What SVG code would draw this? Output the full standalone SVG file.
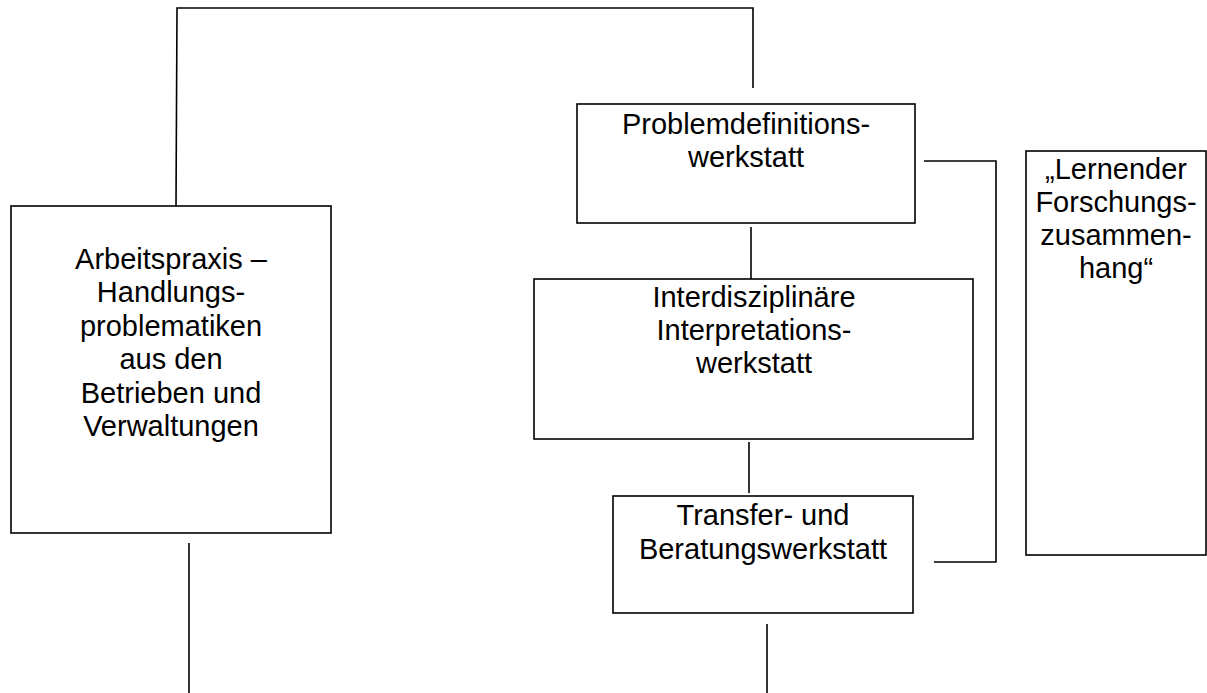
<svg xmlns="http://www.w3.org/2000/svg" width="1207" height="693" viewBox="0 0 1207 693">
<style>
.box{fill:#fff;stroke:#000;stroke-width:1.6}
.ln{fill:none;stroke:#000;stroke-width:1.6}
text{font-family:"Liberation Sans",Arial,sans-serif;font-size:29px;fill:#000;text-anchor:middle}
</style>
<rect width="1207" height="693" fill="#fff"/>
<g id="connectors">
<polyline class="ln" points="176,206 177,8 753,8 753,88"/>
<line class="ln" x1="751" y1="227" x2="751" y2="279"/>
<line class="ln" x1="749" y1="442" x2="749" y2="493"/>
<polyline class="ln" points="924,161 996,161 996,562 934,562"/>
<line class="ln" x1="189" y1="543" x2="189" y2="693"/>
<line class="ln" x1="767" y1="624" x2="767" y2="693"/>
</g>
<g id="arbeitspraxis">
<rect class="box" x="11" y="206" width="320" height="327"/>
<text x="171" y="269">Arbeitspraxis –</text>
<text x="171" y="302">Handlungs-</text>
<text x="171" y="336">problematiken</text>
<text x="171" y="369">aus den</text>
<text x="171" y="403">Betrieben und</text>
<text x="171" y="436">Verwaltungen</text>
</g>
<g id="problemdefinition">
<rect class="box" x="577" y="104" width="338" height="119"/>
<text x="746" y="134">Problemdefinitions-</text>
<text x="746" y="167">werkstatt</text>
</g>
<g id="interpretation">
<rect class="box" x="534" y="279" width="439" height="160"/>
<text x="754" y="307">Interdisziplinäre</text>
<text x="754" y="340">Interpretations-</text>
<text x="754" y="373">werkstatt</text>
</g>
<g id="transfer">
<rect class="box" x="613" y="496" width="300" height="117"/>
<text x="763" y="525">Transfer- und</text>
<text x="763" y="559">Beratungswerkstatt</text>
</g>
<g id="forschungszusammenhang">
<rect class="box" x="1026" y="151" width="180" height="404"/>
<text x="1116" y="179">„Lernender</text>
<text x="1116" y="212">Forschungs-</text>
<text x="1116" y="245">zusammen-</text>
<text x="1116" y="278">hang“</text>
</g>
</svg>
